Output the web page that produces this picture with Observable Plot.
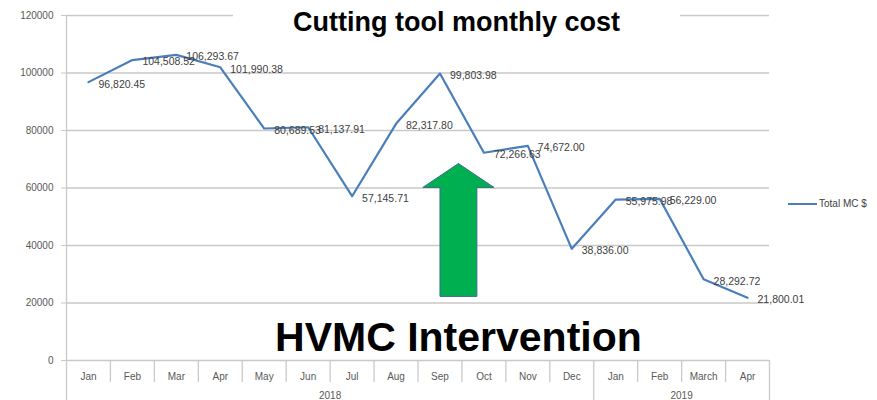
<!DOCTYPE html>
<html>
<head>
<meta charset="utf-8">
<script src="https://cdn.jsdelivr.net/npm/d3@7"></script>
<script src="https://cdn.jsdelivr.net/npm/@observablehq/plot@0.6"></script>
<style>
  body { margin: 0; background: #fff; }
  #wrap { position: relative; width: 877px; height: 400px; overflow: hidden; font-family: "Liberation Sans", Arial, sans-serif; }
  #title { position: absolute; left: 233px; top: 0; width: 447px; height: 40px; background: #fff; text-align: center;
           font-weight: bold; font-size: 27px; line-height: 27px; padding-top: 9px; box-sizing: border-box; color: #000; }
  #legend { position: absolute; left: 788px; top: 198px; font-size: 10px; color: #404040; display: flex; align-items: center; }
  #legend span.sw { display: inline-block; width: 29px; height: 2px; background: #4a7ebb; margin-right: 2px; }
</style>
</head>
<body>
<div id="wrap">
  <div id="chart"></div>
  <div id="title">Cutting tool monthly cost</div>
  <div id="legend"><span class="sw"></span>Total MC $</div>
</div>
<script>
// ---- data ----
const months = ["Jan","Feb","Mar","Apr","May","Jun","Jul","Aug","Sep","Oct","Nov","Dec","Jan","Feb","March","Apr"];
const years = ["2018","2018","2018","2018","2018","2018","2018","2018","2018","2018","2018","2018","2019","2019","2019","2019"];
const totalMC = [96820.45,104508.52,106293.67,101990.38,80689.53,81137.91,57145.71,82317.80,99803.98,72266.63,74672.00,38836.00,55975.98,56229.00,28292.72,21800.01];
const yTicks = [0,20000,40000,60000,80000,100000,120000];
const yearLabels = ["2018","2019"];
const seriesName = "Total MC $";
const annotationText = "HVMC Intervention";
// arrow annotation in data units: x center, tip value, head base value, bottom value, half widths (category units)
const arrowSpec = {x: 8.92, tip: 68500, headBase: 60200, bottom: 22300, headHalf: 0.81, shaftHalf: 0.42};

// ---- derived tables ----
const rows = totalMC.map((v, i) => ({i, pos: i + 0.5, month: months[i], year: years[i], value: v}));
const yearGroups = yearLabels.map(y => {
  const idx = years.map((v, i) => v === y ? i : -1).filter(i => i >= 0);
  return {year: y, start: idx[0], end: idx[idx.length - 1] + 1};
});
const yearBounds = [0, ...yearGroups.map(g => g.end)];
const monthBounds = d3.range(1, months.length).filter(b => !yearBounds.includes(b));
const a = arrowSpec;
const arrowPts = [
  [a.x, a.tip], [a.x + a.headHalf, a.headBase], [a.x + a.shaftHalf, a.headBase], [a.x + a.shaftHalf, a.bottom],
  [a.x - a.shaftHalf, a.bottom], [a.x - a.shaftHalf, a.headBase], [a.x - a.headHalf, a.headBase], [a.x, a.tip]
];
const fmt = d3.format(",.2f");
const gridColor = "#c9c9c9";

const chart = Plot.plot({
  width: 877,
  height: 400,
  marginLeft: 66,
  marginRight: 108,
  marginTop: 15,
  marginBottom: 40,
  style: {fontFamily: "'Liberation Sans', Arial, sans-serif", background: "transparent", overflow: "visible"},
  x: {type: "linear", domain: [0, months.length], axis: null, label: null},
  y: {domain: [0, 120000], axis: null, label: null},
  marks: [
    Plot.ruleY(yTicks, {stroke: gridColor, strokeWidth: 1.3}),
    Plot.ruleX([0], {stroke: gridColor, strokeWidth: 1.3}),
    Plot.axisY({ticks: yTicks, tickFormat: d => String(d), tickSize: 5, tickPadding: 8, fontSize: 10, fill: "#595959", stroke: gridColor, label: null}),
    // month labels
    Plot.axisX({ticks: rows.map(d => d.pos), tickFormat: (d, k) => months[k], tickSize: 0, tickPadding: 12, fontSize: 10, fill: "#595959", label: null}),
    // year labels
    Plot.axisX({ticks: yearGroups.map(g => (g.start + g.end) / 2), tickFormat: (d, k) => yearGroups[k].year, tickSize: 0, tickPadding: 31, fontSize: 10, fill: "#595959", label: null}),
    // month separators
    Plot.axisX({ticks: monthBounds, tickFormat: () => "", tickSize: 22, stroke: gridColor, strokeWidth: 1.3, label: null}),
    // year separators
    Plot.axisX({ticks: yearBounds, tickFormat: () => "", tickSize: 42, stroke: gridColor, strokeWidth: 1.3, label: null}),
    // arrow annotation
    Plot.line(arrowPts, {x: d => d[0], y: d => d[1], fill: "#00b050", stroke: "#3b6b8f", strokeWidth: 1, curve: "linear-closed"}),
    // series
    Plot.line(rows, {x: "pos", y: "value", stroke: "#4a7ebb", strokeWidth: 2.2}),
    Plot.text(rows, {x: "pos", y: "value", text: d => fmt(d.value), textAnchor: "start", dx: 10, dy: 2, fontSize: 10.5, fill: "#404040", style: "letter-spacing:0.5px"}),
    Plot.text([annotationText], {x: a.x, y: 0, text: d => d, dy: -23, fontSize: 41, fontWeight: "bold", fill: "#000"})
  ]
});
document.getElementById("chart").appendChild(chart);
</script>
</body>
</html>
